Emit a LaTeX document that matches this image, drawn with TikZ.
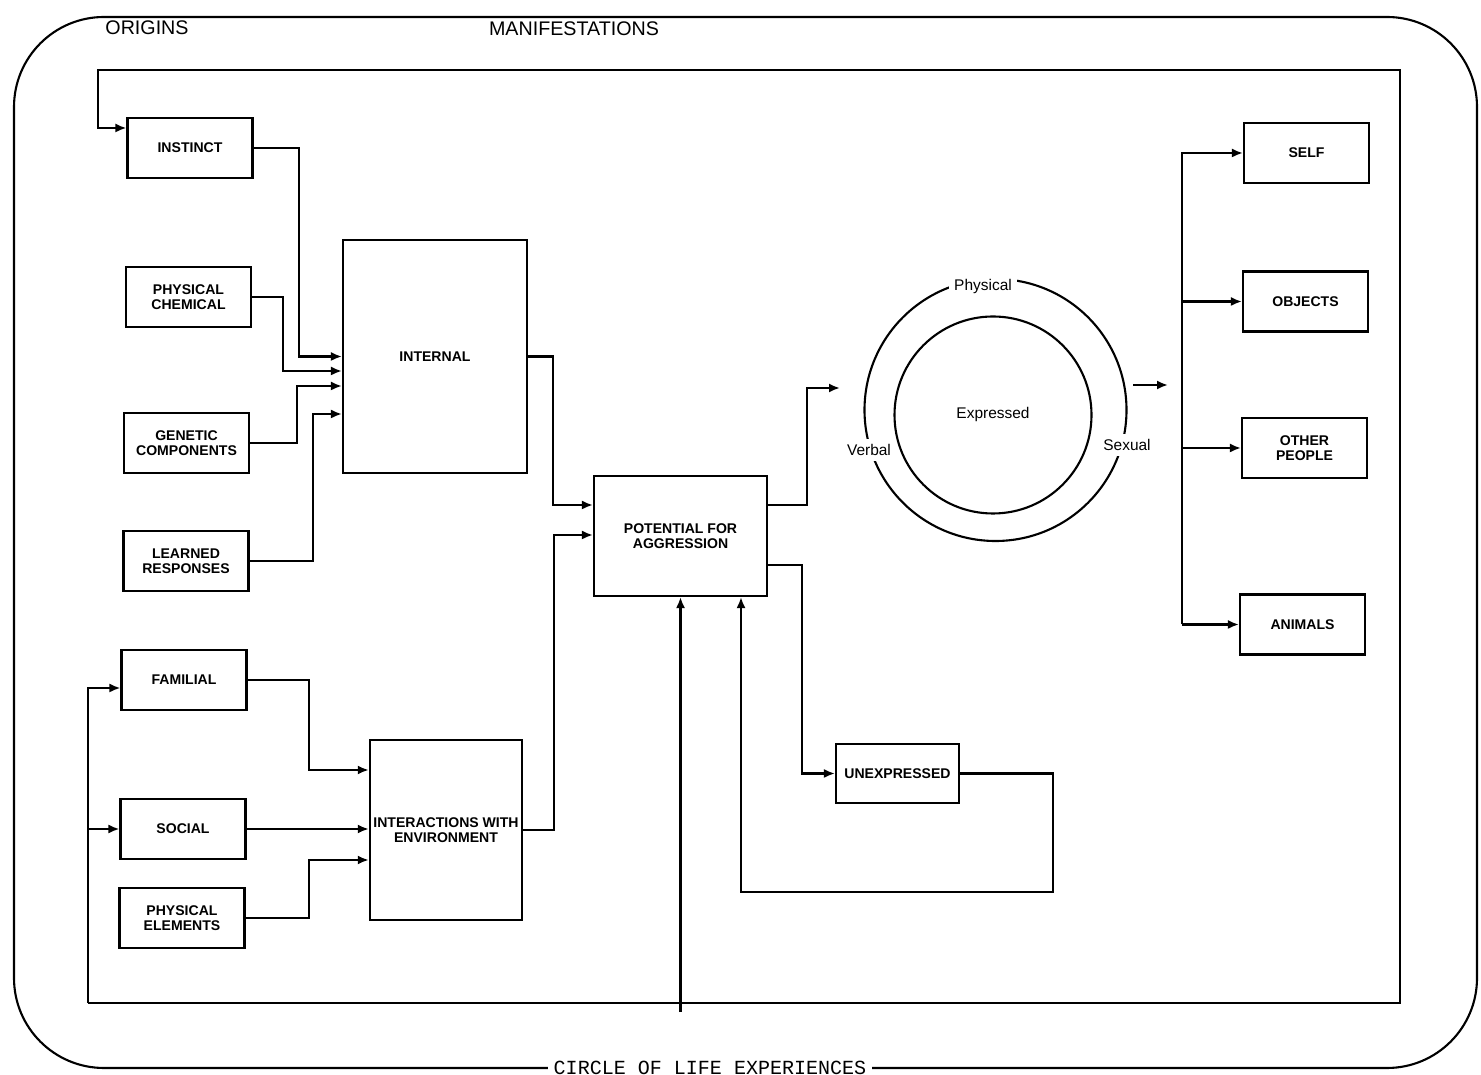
\documentclass[tikz,border=0pt]{standalone}
\usepackage{fontspec}
\setsansfont{Liberation Sans}
\setmonofont{Liberation Mono}
\usetikzlibrary{arrows.meta}
\tikzstyle{block}=[draw,fill=white,rectangle,minimum width=1.25cm,minimum height=0.6cm,align=center,inner sep=1pt,font=\fontsize{4}{4.4}\selectfont\sffamily\bfseries]
\tikzstyle{title}=[font=\fontsize{5.6}{6}\selectfont\sffamily]
\tikzstyle{ringlabel}=[fill=white,inner sep=1.5pt,font=\fontsize{4.4}{5}\selectfont\sffamily]
\tikzstyle{life}=[fill=white,inner sep=1.5pt,font=\fontsize{5.7}{6}\selectfont\ttfamily]

\begin{document}
\begin{tikzpicture}[>={Latex[length=1.1mm,width=0.9mm]}, line width=0.6pt]
    \useasboundingbox (0,0) rectangle (14.81,-10.75);
    % circle of life experiences
    \draw[rounded corners=0.9cm] (0.14,-0.17) rectangle (14.77,-10.68);
    \node[title] (origins) at (1.47,-0.28) {ORIGINS};
    \node[title] (manif) at (5.74,-0.29) {MANIFESTATIONS};
    \node[life] (life) at (7.10,-10.68) {CIRCLE OF LIFE EXPERIENCES};
    % origins
    \node[block] (instinct) at (1.90,-1.48) {INSTINCT};
    \node[block] (physchem) at (1.885,-2.97) {PHYSICAL\\CHEMICAL};
    \node[block] (genetic) at (1.865,-4.43) {GENETIC\\COMPONENTS};
    \node[block] (learned) at (1.86,-5.61) {LEARNED\\RESPONSES};
    \node[block] (familial) at (1.84,-6.80) {FAMILIAL};
    \node[block] (social) at (1.83,-8.29) {SOCIAL};
    \node[block] (physelem) at (1.82,-9.18) {PHYSICAL\\ELEMENTS};
    \node[block, minimum width=1.84cm, minimum height=2.33cm] (internal) at (4.35,-3.565) {INTERNAL};
    \node[block, minimum width=1.52cm, minimum height=1.8cm] (interact) at (4.46,-8.30) {INTERACTIONS WITH\\ENVIRONMENT};
    \node[block, minimum width=1.73cm, minimum height=1.2cm] (potential) at (6.805,-5.36) {POTENTIAL FOR\\AGGRESSION};
    \node[block, minimum width=1.23cm, minimum height=0.59cm] (unexp) at (8.975,-7.735) {UNEXPRESSED};
    % manifestations
    \node[circle, draw, minimum size=2.62cm] (ring) at (9.955,-4.10) {};
    \node[circle, draw, minimum size=1.97cm, font=\fontsize{4.4}{5}\selectfont\sffamily] (expressed) at (9.93,-4.15) {Expressed};
    \node[ringlabel] (physical) at (9.83,-2.87) {Physical};
    \node[ringlabel] (verbal) at (8.69,-4.50) {Verbal};
    \node[ringlabel] (sexual) at (11.27,-4.45) {Sexual};
    \node[block] (self) at (13.065,-1.53) {SELF};
    \node[block] (objects) at (13.055,-3.015) {OBJECTS};
    \node[block] (others) at (13.045,-4.48) {OTHER\\PEOPLE};
    \node[block] (animals) at (13.025,-6.245) {ANIMALS};

    \coordinate (ringin) at (8.40,-3.88);
    \coordinate (ringout) at (11.33,-3.85);
    \coordinate (ringtip) at (11.68,-3.85);
    \coordinate (fan) at (11.82,0);
    \coordinate (loopsw) at (0.88,-10.03);
    \coordinate (loopse) at (14.00,-10.03);
    \coordinate (loopne) at (14.00,-0.70);
    \coordinate (loopnw) at (0.98,-0.70);
    \coordinate (lifein) at (0,-10.12);

    \draw[->] (instinct.east) -- ++(0.45,0) |- (internal.west);
    \draw[->] (physchem.east) -- ++(0.31,0) |- ([yshift=-1.45mm]internal.west);
    \draw[->] (genetic.east) -- ++(0.47,0) |- ([yshift=-2.95mm]internal.west);
    \draw[->] (learned.east) -- ++(0.63,0) |- ([yshift=-5.75mm]internal.west);
    \draw[->] (internal.east) -- ++(0.25,0) |- ([yshift=3.1mm]potential.west);
    \draw[->] (interact.east) -- ++(0.31,0) |- ([yshift=0.1mm]potential.west);
    \draw[->] (familial.east) -- ++(0.61,0) |- ([yshift=6mm]interact.west);
    \draw[->] (social.east) -- (social.east -| interact.west);
    \draw[->] (physelem.east) -- ++(0.63,0) |- ([yshift=-3mm]interact.west);
    \draw[->] ([yshift=3.1mm]potential.east) -- ++(0.39,0) |- (ringin);
    \draw[->] ([yshift=-2.9mm]potential.east) -- ++(0.34,0) |- (unexp.west);
    \draw[->] (unexp.east) -- ++(0.93,0) -- ++(0,-1.185) -| ([xshift=6.05mm]potential.south);
    \draw[->] (lifein -| potential.south) -- (potential.south);
    \draw[->] (loopsw) -- (loopse) -- (loopne) -- (loopnw) |- ([yshift=2mm]instinct.west);
    \draw[->] (loopsw) |- ([yshift=-0.8mm]familial.west);
    \draw[->] (loopsw |- social.west) -- (social.west);
    \draw[->] (ringout) -- (ringtip);
    \draw[->] (fan |- animals.west) |- (self.west);
    \draw[->] (fan |- objects.west) -- (objects.west);
    \draw[->] (fan |- others.west) -- (others.west);
    \draw[->] (fan |- animals.west) -- (animals.west);
\end{tikzpicture}
\end{document}
